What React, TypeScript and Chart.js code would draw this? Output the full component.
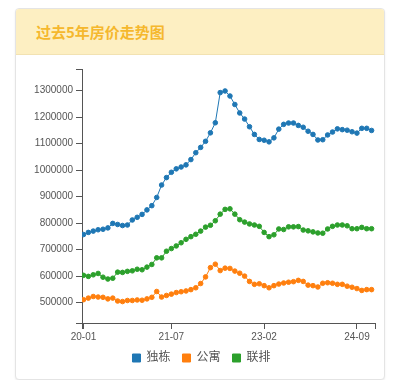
import React, { useEffect, useRef } from 'react';
import { Chart, registerables } from 'chart.js';

Chart.register(...registerables);

const months = [
  '20-01', '20-02', '20-03', '20-04', '20-05', '20-06', '20-07', '20-08', '20-09', '20-10', '20-11', '20-12',
  '21-01', '21-02', '21-03', '21-04', '21-05', '21-06', '21-07', '21-08', '21-09', '21-10', '21-11', '21-12',
  '22-01', '22-02', '22-03', '22-04', '22-05', '22-06', '22-07', '22-08', '22-09', '22-10', '22-11', '22-12',
  '23-01', '23-02', '23-03', '23-04', '23-05', '23-06', '23-07', '23-08', '23-09', '23-10', '23-11', '23-12',
  '24-01', '24-02', '24-03', '24-04', '24-05', '24-06', '24-07', '24-08', '24-09', '24-10', '24-11', '24-12',
];
const xTickIndices = [0, 18, 37, 56];
const yTickValues = [500000, 600000, 700000, 800000, 900000, 1000000, 1100000, 1200000, 1300000];
const yMin = 423000;
const yMax = 1382000;

const seriesNames = ['独栋', '公寓', '联排'];

const detached = [
  757000, 765000, 770000, 775000, 777000, 782000, 799000, 795000, 791000, 793000, 812000, 822000,
  833000, 850000, 866000, 897000, 944000, 972000, 992000, 1005000, 1012000, 1020000, 1040000, 1066000,
  1086000, 1109000, 1141000, 1179000, 1293000, 1299000, 1280000, 1248000, 1216000, 1193000, 1164000, 1135000,
  1116000, 1113000, 1107000, 1122000, 1155000, 1173000, 1178000, 1178000, 1169000, 1162000, 1147000, 1135000,
  1114000, 1115000, 1133000, 1144000, 1156000, 1153000, 1151000, 1145000, 1140000, 1158000, 1158000, 1150000,
];
const apartment = [
  511000, 517000, 523000, 521000, 520000, 514000, 517000, 506000, 504000, 508000, 508000, 510000,
  509000, 514000, 520000, 542000, 521000, 527000, 532000, 538000, 541000, 544000, 549000, 556000,
  572000, 597000, 632000, 645000, 621000, 630000, 629000, 619000, 611000, 600000, 580000, 569000,
  571000, 564000, 556000, 564000, 570000, 574000, 577000, 579000, 584000, 580000, 566000, 564000,
  559000, 573000, 575000, 573000, 569000, 569000, 562000, 558000, 553000, 546000, 549000, 549000,
];
const townhouse = [
  603000, 599000, 605000, 610000, 596000, 589000, 592000, 615000, 614000, 618000, 620000, 626000,
  624000, 634000, 644000, 669000, 669000, 694000, 704000, 714000, 726000, 739000, 749000, 758000,
  770000, 785000, 792000, 809000, 834000, 852000, 854000, 834000, 813000, 804000, 797000, 793000,
  788000, 765000, 749000, 756000, 778000, 776000, 786000, 786000, 787000, 774000, 771000, 767000,
  763000, 762000, 778000, 788000, 793000, 793000, 790000, 779000, 779000, 784000, 779000, 779000,
];

const colors = ['#1f77b4', '#ff7f0e', '#2ca02c'];
const axisColor = '#555';
const textColor = '#555';
const fontFamily = '"Liberation Sans", Arial, "Noto Sans CJK SC", sans-serif';

const legendShift = {
  id: 'legendShift',
  afterLayout(chart: any) {
    if (chart.legend) {
      chart.legend.left += 6;
      chart.legend.right += 6;
    }
  },
};

export default function App() {
  const ref = useRef<HTMLCanvasElement>(null);

  useEffect(() => {
    const values = [detached, apartment, townhouse];
    const chart = new Chart(ref.current as HTMLCanvasElement, {
      type: 'line',
      data: {
        datasets: values.map((arr, k) => ({
          label: seriesNames[k],
          data: arr.map((v, i) => ({ x: i, y: v })),
          borderColor: colors[k],
          backgroundColor: colors[k],
          pointBackgroundColor: colors[k],
          pointBorderColor: colors[k],
          borderWidth: 1,
          pointRadius: 2.3,
          pointBorderWidth: 1,
          tension: 0,
          fill: false,
        })),
      },
      plugins: [legendShift],
      options: {
        responsive: false,
        animation: false,
        devicePixelRatio: 1,
        layout: { padding: { top: 14, right: 9, bottom: 5, left: 0 } },
        plugins: {
          tooltip: { enabled: false },
          legend: {
            position: 'bottom',
            labels: {
              boxWidth: 8,
              boxHeight: 8,
              padding: 12,
              color: textColor,
              font: { size: 12, family: fontFamily },
            },
          },
        },
        scales: {
          x: {
            type: 'linear',
            min: -0.3,
            max: 59.7,
            afterBuildTicks: (scale: any) => {
              scale.ticks = [scale.min, ...xTickIndices, scale.max].map((v) => ({ value: v }));
            },
            afterFit: (scale: any) => {
              scale.height = 17;
            },
            ticks: {
              autoSkip: false,
              maxRotation: 0,
              padding: 2,
              color: textColor,
              font: { size: 10, family: fontFamily },
              callback: (v: any) => (xTickIndices.indexOf(v) >= 0 ? months[v] : ''),
            },
            grid: {
              display: true,
              drawOnChartArea: false,
              drawTicks: true,
              tickLength: 6,
              color: axisColor,
              lineWidth: 1,
            },
            border: { display: true, color: axisColor, width: 1 },
          },
          y: {
            type: 'linear',
            min: yMin,
            max: yMax,
            afterBuildTicks: (scale: any) => {
              scale.ticks = [yMin, ...yTickValues, yMax].map((v) => ({ value: v }));
            },
            afterFit: (scale: any) => {
              scale.width = 66;
            },
            ticks: {
              autoSkip: false,
              padding: 3,
              color: textColor,
              font: { size: 10, family: fontFamily },
              callback: (v: any) => (yTickValues.indexOf(v) >= 0 ? String(v) : ''),
            },
            grid: {
              display: true,
              drawOnChartArea: false,
              drawTicks: true,
              tickLength: 6,
              color: axisColor,
              lineWidth: 1,
            },
            border: { display: true, color: axisColor, width: 1 },
          },
        },
      },
    });
    return () => chart.destroy();
  }, []);

  return (
    <div
      style={{
        marginLeft: 7,
        width: 370,
        boxSizing: 'border-box',
        border: '1px solid #e4e4e4',
        borderRadius: 4,
        boxShadow: '0 1px 2px rgba(0,0,0,0.08)',
        overflow: 'hidden',
        background: '#fff',
      }}
    >
      <div
        style={{
          height: 45,
          background: '#fdefc2',
          borderBottom: '1px solid #f2e2b2',
          display: 'flex',
          alignItems: 'center',
          paddingLeft: 20,
          color: '#f5b82e',
          fontSize: 15,
          fontWeight: 600,
          fontFamily: '"Noto Sans CJK SC", "Liberation Sans", sans-serif',
        }}
      >
        过去5年房价走势图
      </div>
      <canvas ref={ref} width={368} height={324} style={{ display: 'block', width: 368, height: 324 }} />
    </div>
  );
}
